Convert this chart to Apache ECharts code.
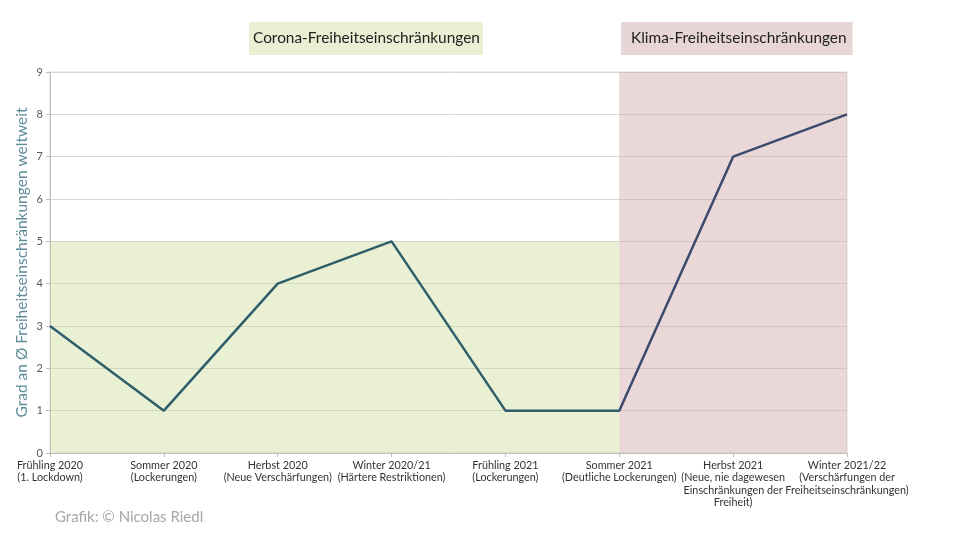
<!DOCTYPE html>
<html><head><meta charset="utf-8">
<script src="https://cdn.jsdelivr.net/npm/echarts@6/dist/echarts.min.js"></script>
<style>html,body{margin:0;padding:0;background:#fff}#c{width:959px;height:539px}</style>
</head><body><div id="c"></div>
<script>
const categories = [
  "Frühling 2020\n(1. Lockdown)",
  "Sommer 2020\n(Lockerungen)",
  "Herbst 2020\n(Neue Verschärfungen)",
  "Winter 2020/21\n(Härtere Restriktionen)",
  "Frühling 2021\n(Lockerungen)",
  "Sommer 2021\n(Deutliche Lockerungen)",
  "Herbst 2021\n(Neue, nie dagewesen\nEinschränkungen der\nFreiheit)",
  "Winter 2021/22\n(Verschärfungen der\nFreiheitseinschränkungen)"
];
const values = [3, 1, 4, 5, 1, 1, 7, 8];
// phase regions: [startCategoryIndex, endCategoryIndex, maxLevel]
const coronaPhase = [0, 5, 5];
const klimaPhase = [5, 7, 9];
const yTicks = [0, 9, 1];
const coronaTitle = "Corona-Freiheitseinschränkungen";
const klimaTitle = "Klima-Freiheitseinschränkungen";
const yName = "Grad an Ø Freiheitseinschränkungen weltweit";
const credit = "Grafik: © Nicolas Riedl";

const FONT = "Lato, 'Open Sans', sans-serif";
const split = coronaPhase[1] / (categories.length - 1);
const lineColor = new echarts.graphic.LinearGradient(0, 0, 1, 0, [
  {offset: 0, color: '#2f5e6b'}, {offset: split, color: '#2f5e6b'},
  {offset: split, color: '#3b4a6d'}, {offset: 1, color: '#3b4a6d'}
]);
const chart = echarts.init(document.getElementById('c'), null, {renderer: 'canvas'});
chart.setOption({
  animation: false,
  backgroundColor: '#fff',
  textStyle: {fontFamily: FONT},
  title: [
    {text: coronaTitle, left: 249, top: 22, backgroundColor: '#e9efd3', padding: [7, 3, 7, 4],
     textStyle: {fontFamily: FONT, fontSize: 15.4, lineHeight: 19, fontWeight: 'normal', color: '#222'}},
    {text: klimaTitle, left: 621, top: 22, backgroundColor: '#e8d6d6', padding: [7, 6, 7, 10],
     textStyle: {fontFamily: FONT, fontSize: 15.4, lineHeight: 19, fontWeight: 'normal', color: '#222'}},
    {text: credit, left: 55, top: 510, padding: 0, textStyle: {fontFamily: FONT, fontSize: 15, fontWeight: 'normal', color: '#a6a6a6'}}
  ],
  grid: {left: 50, right: 112, top: 72, bottom: 86, show: true, borderColor: '#d9d9d9', borderWidth: 1},
  xAxis: {
    type: 'category', data: categories, boundaryGap: false,
    axisLine: {lineStyle: {color: '#bfbfbf'}},
    axisTick: {show: true, length: 4, lineStyle: {color: '#bfbfbf'}},
    axisLabel: {color: '#333', fontSize: 10.8, lineHeight: 12.5, margin: 6, interval: 0, fontFamily: FONT},
    splitLine: {show: false}
  },
  yAxis: {
    type: 'value', min: yTicks[0], max: yTicks[1], interval: yTicks[2],
    name: yName, nameLocation: 'middle', nameGap: 20, nameRotate: 90, nameMoveOverlap: false,
    nameTextStyle: {color: '#5e8c9a', fontSize: 15.5, fontFamily: FONT},
    axisLine: {show: true, lineStyle: {color: '#bfbfbf'}},
    axisTick: {show: true, length: 4, lineStyle: {color: '#bfbfbf'}},
    axisLabel: {color: '#595959', fontSize: 11, margin: 7, fontFamily: FONT},
    splitLine: {lineStyle: {color: '#d9d9d9'}}
  },
  series: [
    {type: 'line', data: values, symbol: 'none', z: 5,
     lineStyle: {width: 2.5, color: lineColor},
     markArea: {silent: true, data: [
       [{xAxis: categories[coronaPhase[0]], yAxis: 0, itemStyle: {color: 'rgba(200,215,140,0.38)'}},
        {xAxis: categories[coronaPhase[1]], yAxis: coronaPhase[2]}],
       [{xAxis: categories[klimaPhase[0]], yAxis: 0, itemStyle: {color: 'rgba(205,160,160,0.42)'}},
        {xAxis: categories[klimaPhase[1]], yAxis: klimaPhase[2]}]
     ]}}
  ]
});
</script></body></html>
